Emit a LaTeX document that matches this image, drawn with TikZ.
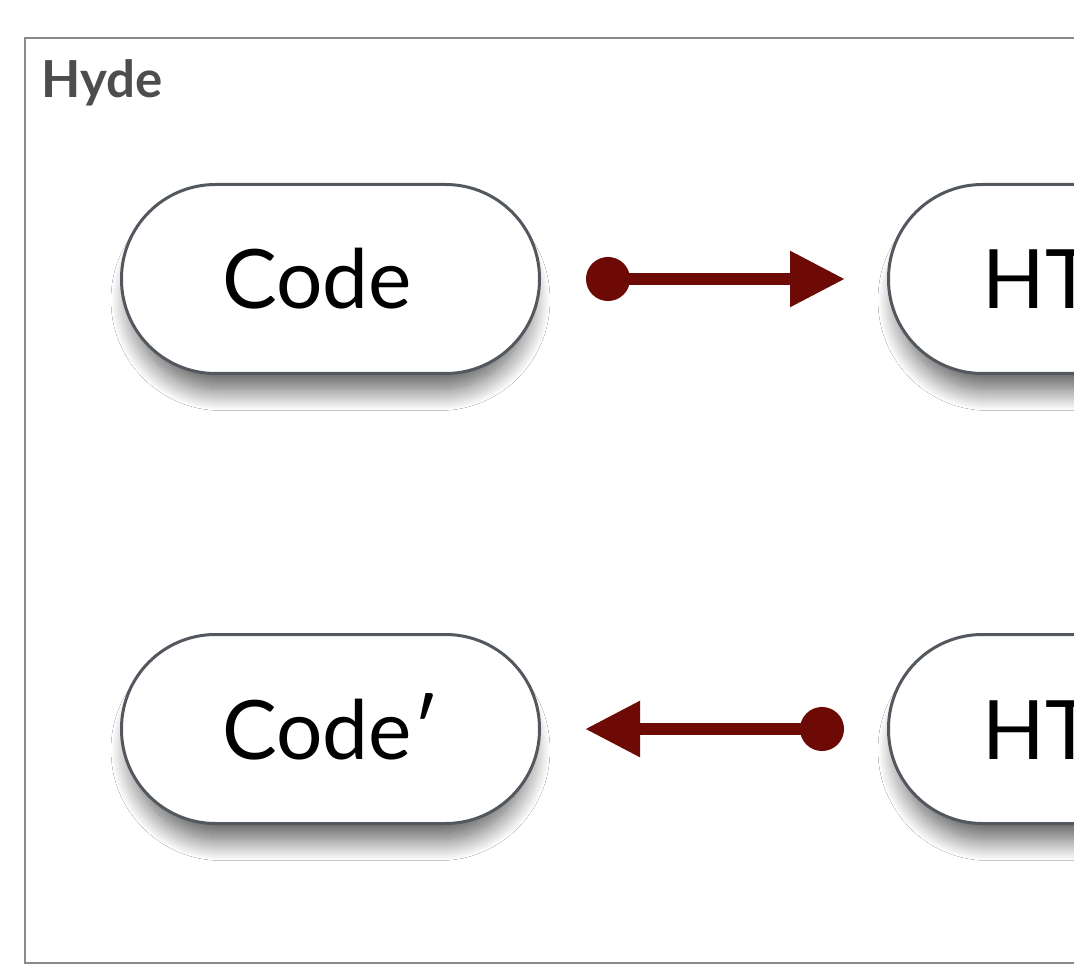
\documentclass[tikz,border=0pt]{standalone}
\usepackage{fontspec}
\setmainfont{Lato}
\usetikzlibrary{arrows.meta,shadows.blur}
\definecolor{framegray}{HTML}{8A8A8A}
\definecolor{titlegray}{HTML}{4D4D4D}
\definecolor{boxline}{HTML}{53585F}
\definecolor{flowred}{HTML}{6E0A05}
\tikzset{
  pill/.style={draw=boxline, line width=3pt, fill=white, rounded corners=94pt,
    minimum width=418pt, minimum height=189pt, inner sep=0pt,
    text height=60pt, text depth=0pt,
    font=\fontsize{82}{100}\selectfont,
    blur shadow={shadow xshift=0pt, shadow yshift=-22pt, shadow blur radius=22pt,
      shadow blur steps=24, shadow opacity=65, shadow scale=0.95}},
  flow/.style={draw=flowred, line width=12pt},
  dotstart/.style={shorten <=#1, {Circle[length=44pt,width=44pt]}-{Triangle[length=55pt,width=53pt]}},
}
\begin{document}
\begin{tikzpicture}[x=1pt,y=-1pt]
  \useasboundingbox (0,0) rectangle (1074,968);
  \clip (0,0) rectangle (1074,968);
  \fill[white] (0,0) rectangle (1074,968);
  % outer frame and its title
  \draw[framegray, line width=2.5pt] (25,38) rectangle (1120,963);
  \node[anchor=base west, inner sep=0pt, text=titlegray,
    font=\fontsize{51}{60}\selectfont\bfseries] (title) at (41,98) {Hyde};
  % the four stages
  \node[pill] (code)  at (330.5,279) {Code\phantom{′}};
  \node[pill] (html)  at (1097.5,279) {HTML};
  \node[pill] (code2) at (330.5,729) {Code′};
  \node[pill] (html2) at (1097.5,729) {HTML};
  % transformations between them
  \draw[flow, dotstart=45pt, shorten >=42pt] (code.east) -- (html.west);
  \draw[flow, dotstart=43pt, shorten >=44pt] (html2.west) -- (code2.east);
\end{tikzpicture}
\end{document}
